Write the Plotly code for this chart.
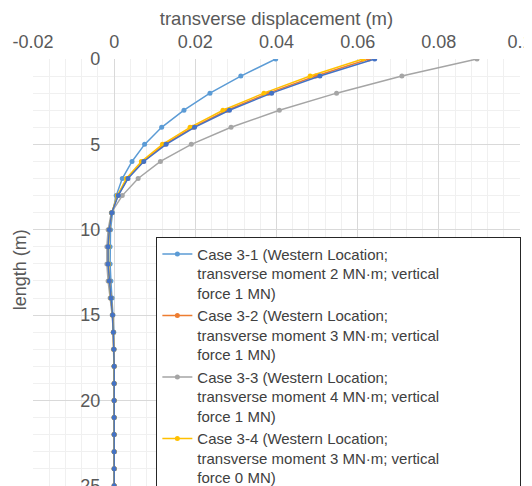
import plotly.graph_objects as go

depth = list(range(26))

case_3_1 = [0.0398, 0.0312, 0.0236, 0.0172, 0.0117, 0.0075, 0.0044, 0.0020, 0.0005,
            -0.0004, -0.0009, -0.0010, -0.0010, -0.0008, -0.0005, -0.0003, -0.0001, 0.0,
            0.0, 0.0, 0.0, 0.0, 0.0, 0.0, 0.0, 0.0]
case_3_2 = [0.0628, 0.0497, 0.0380, 0.0278, 0.0194, 0.0124, 0.0071, 0.0033, 0.0009,
            -0.0006, -0.0012, -0.0015, -0.0015, -0.0012, -0.0008, -0.0004, -0.0002, -0.0001,
            0.0, 0.0, 0.0, 0.0, 0.0, 0.0, 0.0, 0.0]
case_3_3 = [0.0894, 0.0709, 0.0548, 0.0407, 0.0288, 0.0190, 0.0114, 0.0059, 0.0020,
            -0.0007, -0.0015, -0.0018, -0.0018, -0.0015, -0.0010, -0.0005, -0.0002, -0.0001,
            0.0, 0.0, 0.0, 0.0, 0.0, 0.0, 0.0, 0.0]
case_3_4 = [0.0613, 0.0483, 0.0369, 0.0268, 0.0187, 0.0119, 0.0067, 0.0030, 0.0008,
            -0.0006, -0.0012, -0.0014, -0.0014, -0.0012, -0.0008, -0.0004, -0.0002, -0.0001,
            0.0, 0.0, 0.0, 0.0, 0.0, 0.0, 0.0, 0.0]
case_3_5 = [0.0642, 0.0507, 0.0388, 0.0284, 0.0198, 0.0128, 0.0073, 0.0034, 0.0010,
            -0.0006, -0.0012, -0.0015, -0.0015, -0.0012, -0.0008, -0.0004, -0.0002, -0.0001,
            0.0, 0.0, 0.0, 0.0, 0.0, 0.0, 0.0, 0.0]

names = [
    "Case 3-1 (Western Location;<br>transverse moment 2 MN·m; vertical<br>force 1 MN)",
    "Case 3-2 (Western Location;<br>transverse moment 3 MN·m; vertical<br>force 1 MN)",
    "Case 3-3 (Western Location;<br>transverse moment 4 MN·m; vertical<br>force 1 MN)",
    "Case 3-4 (Western Location;<br>transverse moment 3 MN·m; vertical<br>force 0 MN)",
    "Case 3-5",
]
series = [case_3_1, case_3_2, case_3_3, case_3_4, case_3_5]
colors = ["#5B9BD5", "#ED7D31", "#A5A5A5", "#FFC000", "#4472C4"]
show = [True, True, True, True, False]

x_tickvals = [-0.02, 0, 0.02, 0.04, 0.06, 0.08, 0.1]
x_ticktext = ["-0.02", "0", "0.02", "0.04", "0.06", "0.08", "0.1"]

FONT = "Liberation Sans, Arial, sans-serif"

fig = go.Figure()
for nm, vals, col, sh in zip(names, series, colors, show):
    fig.add_trace(go.Scatter(
        x=vals, y=depth, name=nm, mode="lines+markers",
        line=dict(color=col, width=1.5),
        marker=dict(color=col, size=5),
        showlegend=sh,
    ))

fig.update_layout(
    width=524, height=478,
    margin=dict(l=24.5, r=12, t=51.3, b=0, pad=0, autoexpand=False),
    paper_bgcolor="white", plot_bgcolor="white",
    font=dict(family=FONT, size=18, color="#595959"),
    xaxis=dict(
        range=[-0.02, 0.1], side="top",
        tickmode="array", tickvals=x_tickvals, ticktext=x_ticktext,
        showgrid=True, gridcolor="#d9d9d9", gridwidth=1,
        zeroline=False, showline=False, ticks="",
        ticklabelstandoff=6, ticklabeloverflow="allow",
        minor=dict(tickmode="linear", tick0=0, dtick=0.004, showgrid=True,
                   gridcolor="#f0f0f0", gridwidth=1),
        title=dict(text="transverse displacement (m)", standoff=4,
                   font=dict(size=18.5, color="#595959")),
    ),
    yaxis=dict(
        range=[25.01, 0], dtick=5, tick0=0,
        anchor="free", position=1/6,
        showgrid=True, gridcolor="#d9d9d9", gridwidth=1,
        zeroline=False, showline=False, ticks="",
        ticklabelstandoff=14, ticklabeloverflow="allow",
        minor=dict(dtick=1, showgrid=True, gridcolor="#f0f0f0", gridwidth=1),
    ),
    legend=dict(
        x=0.2533, y=0.5835, xanchor="left", yanchor="top",
        orientation="h", maxheight=300,
        bgcolor="white", bordercolor="#262626", borderwidth=1,
        font=dict(family=FONT, size=15, color="#404040"),
        valign="top", tracegroupgap=0,
        entrywidth=318, entrywidthmode="pixels",
    ),
    annotations=[dict(
        text="length (m)", textangle=-90, xref="paper", yref="paper",
        x=-0.026, y=0.506, xanchor="center", yanchor="middle",
        showarrow=False, font=dict(family=FONT, size=18, color="#595959"),
    )],
)

fig.write_html("out.html")
